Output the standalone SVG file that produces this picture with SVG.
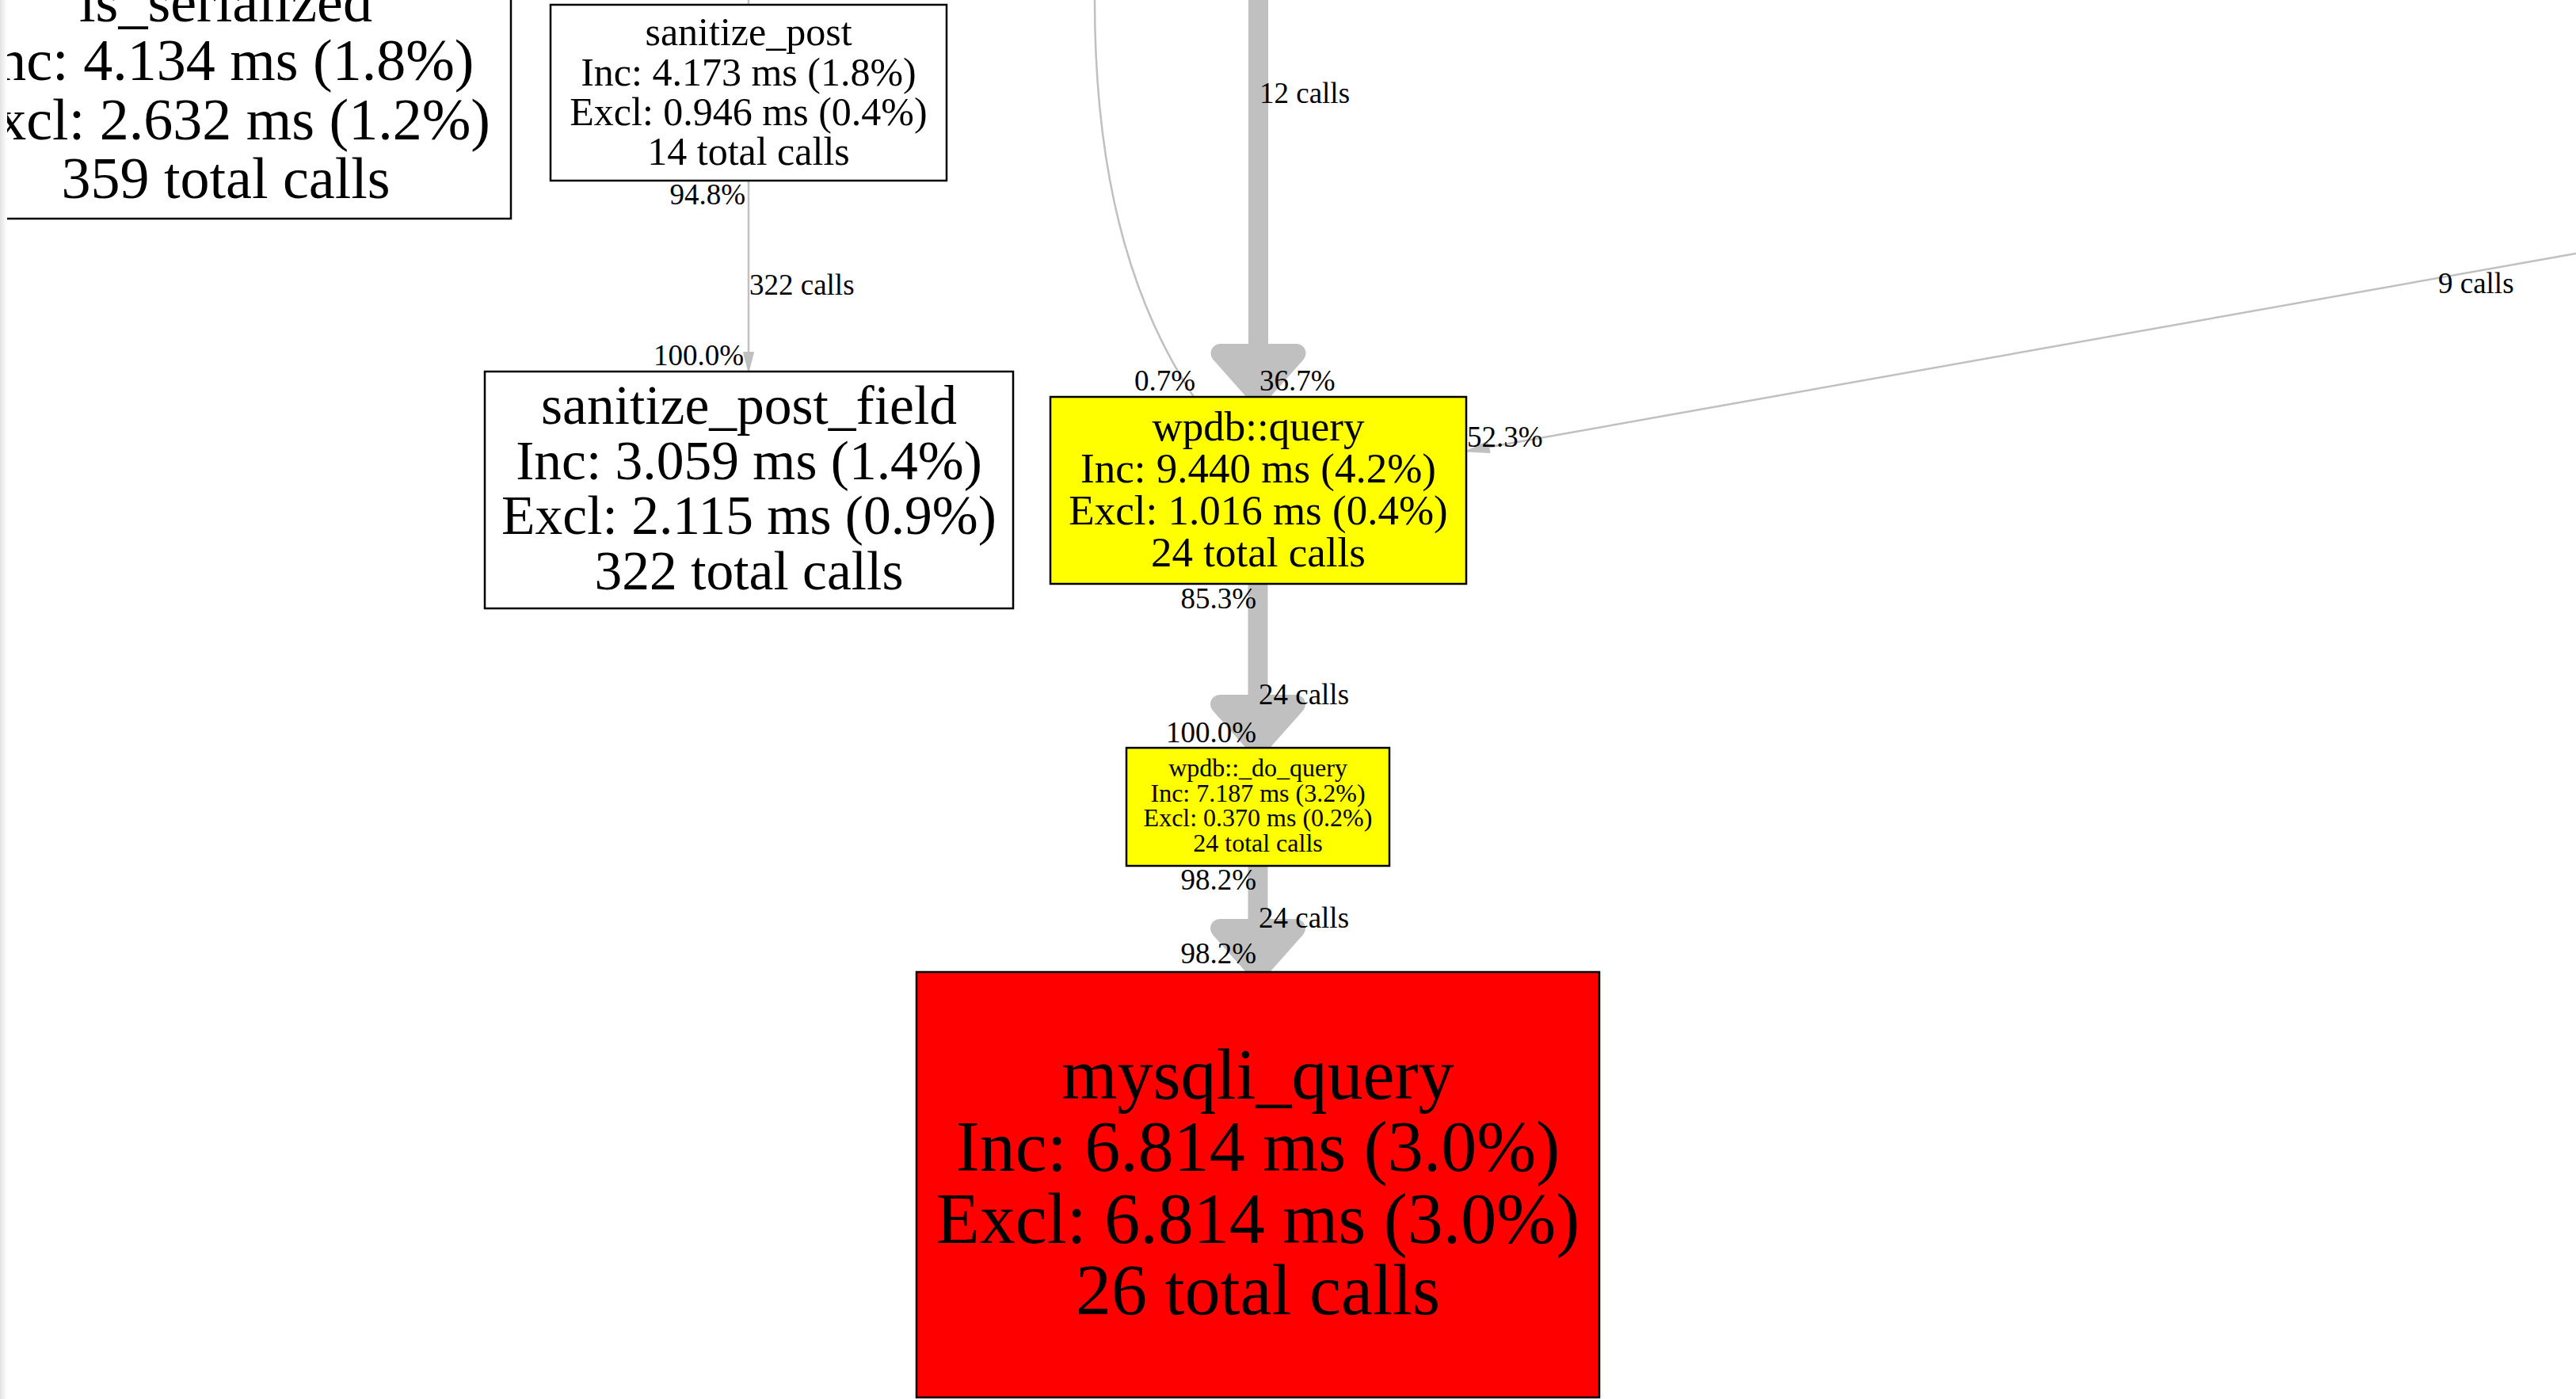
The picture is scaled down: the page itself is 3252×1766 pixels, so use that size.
<svg xmlns="http://www.w3.org/2000/svg" width="3252" height="1766" viewBox="0 0 3252 1766">
<style>
text{font-family:"Liberation Serif","Times New Roman",serif;fill:#000}
.n{stroke:#000;stroke-width:2.5}
.w{fill:#fff}
.y{fill:#ffff00}
.r{fill:#ff0000}
.t{text-anchor:middle}
.el{font-size:37px}
.end{text-anchor:end}
.thin{fill:none;stroke:#c0c0c0;stroke-width:2.5}
.thick{fill:none;stroke:#c0c0c0;stroke-width:25}
.head{fill:#c0c0c0;stroke:#c0c0c0;stroke-width:24;stroke-linejoin:round}
.shead{fill:#c0c0c0;stroke:#c0c0c0;stroke-width:2;stroke-linejoin:round}
</style>
<defs>
<linearGradient id="edge" x1="0" y1="0" x2="1" y2="0">
<stop offset="0" stop-color="#e2e2e2"/>
<stop offset="1" stop-color="#ffffff"/>
</linearGradient>
</defs>
<rect width="3252" height="1766" fill="#fff"/>
<g id="connectors">
<line class="thin" x1="945" y1="0" x2="945" y2="6"/>
<line class="thin" x1="945" y1="228" x2="945" y2="445"/>
<polygon class="shead" points="939,445 951,445 945,468"/>
<path class="thin" d="M1382,0 C1382,250 1440,400 1507,501"/>
<line class="thick" x1="1588.5" y1="0" x2="1588.5" y2="447"/>
<polygon class="head" points="1540.5,446 1636.5,446 1588.5,500"/>
<line class="thin" x1="3252" y1="320" x2="1879" y2="564.5"/>
<polygon class="shead" points="1852,569.5 1880.5,571 1877.5,558"/>
<line class="thick" x1="1588" y1="737" x2="1588" y2="890"/>
<polygon class="head" points="1540,889 1636,889 1588,943"/>
<line class="thick" x1="1588" y1="1093" x2="1588" y2="1173"/>
<polygon class="head" points="1540,1172 1636,1172 1588,1226"/>
<text class="el end" x="941" y="258">94.8%</text>
<text class="el" x="946" y="372">322 calls</text>
<text class="el end" x="939" y="461">100.0%</text>
<text class="el" x="1590" y="130">12 calls</text>
<text class="el" x="1432" y="493">0.7%</text>
<text class="el" x="1590" y="493">36.7%</text>
<text class="el" x="3078" y="370">9 calls</text>
<text class="el" x="1852" y="564">52.3%</text>
<text class="el end" x="1586" y="768">85.3%</text>
<text class="el" x="1589" y="889">24 calls</text>
<text class="el end" x="1586" y="937">100.0%</text>
<text class="el end" x="1586" y="1123">98.2%</text>
<text class="el" x="1589" y="1171">24 calls</text>
<text class="el end" x="1586" y="1216">98.2%</text>
</g>
<g id="is_serialized">
<rect class="n w" x="-100" y="-100" width="745" height="376"/>
<g class="t" style="font-size:74px">
<text x="285" y="27">is_serialized</text>
<text x="285" y="101">Inc: 4.134 ms (1.8%)</text>
<text x="285" y="175.5">Excl: 2.632 ms (1.2%)</text>
<text x="285" y="250">359 total calls</text>
</g>
</g>
<g id="sanitize_post">
<rect class="n w" x="695" y="6" width="500" height="222"/>
<g class="t" style="font-size:50px">
<text x="945" y="57">sanitize_post</text>
<text x="945" y="107.5">Inc: 4.173 ms (1.8%)</text>
<text x="945" y="157.5">Excl: 0.946 ms (0.4%)</text>
<text x="945" y="208">14 total calls</text>
</g>
</g>
<g id="sanitize_post_field">
<rect class="n w" x="612" y="469" width="667" height="299"/>
<g class="t" style="font-size:69.5px">
<text x="945.5" y="535">sanitize_post_field</text>
<text x="945.5" y="604.5">Inc: 3.059 ms (1.4%)</text>
<text x="945.5" y="674">Excl: 2.115 ms (0.9%)</text>
<text x="945.5" y="743.5">322 total calls</text>
</g>
</g>
<g id="wpdb_query">
<rect class="n y" x="1326" y="501" width="525" height="236"/>
<g class="t" style="font-size:53px">
<text x="1588.5" y="556">wpdb::query</text>
<text x="1588.5" y="609">Inc: 9.440 ms (4.2%)</text>
<text x="1588.5" y="662">Excl: 1.016 ms (0.4%)</text>
<text x="1588.5" y="715">24 total calls</text>
</g>
</g>
<g id="wpdb_do_query">
<rect class="n y" x="1422" y="944" width="332" height="149"/>
<g class="t" style="font-size:32px">
<text x="1588" y="980">wpdb::_do_query</text>
<text x="1588" y="1011.7">Inc: 7.187 ms (3.2%)</text>
<text x="1588" y="1043.3">Excl: 0.370 ms (0.2%)</text>
<text x="1588" y="1075">24 total calls</text>
</g>
</g>
<g id="mysqli_query">
<rect class="n r" x="1157" y="1227" width="862" height="537"/>
<g class="t" style="font-size:90px">
<text x="1588" y="1387">mysqli_query</text>
<text x="1588" y="1478">Inc: 6.814 ms (3.0%)</text>
<text x="1588" y="1569">Excl: 6.814 ms (3.0%)</text>
<text x="1588" y="1659">26 total calls</text>
</g>
</g>
<rect x="0" y="0" width="9" height="1766" fill="url(#edge)"/>
</svg>
